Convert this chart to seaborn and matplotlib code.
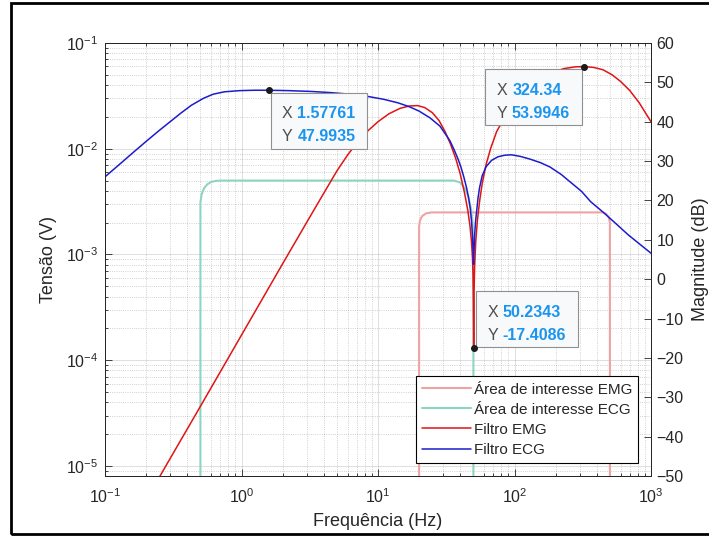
import matplotlib
matplotlib.use('Agg')
import matplotlib.pyplot as plt
import seaborn as sns
from matplotlib.patches import Rectangle
from matplotlib.offsetbox import TextArea, HPacker, VPacker, AnnotationBbox, DrawingArea

# Área de interesse EMG (20 a 500 Hz, 2.5 mV) - eixo da esquerda
freq_area_emg = [20, 20, 20.3, 21, 22.5, 24.8, 445, 470, 490, 500, 500]
tensao_area_emg = [1e-6, 1.84e-3, 2.1e-3, 2.3e-3, 2.45e-3, 2.5e-3, 2.5e-3, 2.42e-3, 2.25e-3, 2.0e-3, 1e-6]

# Área de interesse ECG (0.5 a 50 Hz, 5 mV)
freq_area_ecg = [0.5, 0.5, 0.51, 0.53, 0.56, 0.6, 0.65, 0.7, 36, 40, 43.4, 46, 48.3, 49.5, 50, 50]
tensao_area_ecg = [1e-6, 3.1e-3, 3.7e-3, 4.2e-3, 4.6e-3, 4.85e-3, 4.97e-3, 5e-3, 5e-3, 4.8e-3, 4.2e-3, 3.5e-3, 2.6e-3, 1.8e-3, 1.2e-3, 1e-6]

# Filtro EMG (dB) - eixo da direita
freq_emg = [0.2, 0.5, 1, 2, 3, 4, 5, 6, 7, 8.5, 10, 12, 14.5, 17, 19.5, 22, 25, 28, 31, 34, 37, 40, 43,
            45.5, 47.2, 48.4, 49.2, 49.7, 50.0, 50.2343, 50.5, 51, 52, 53.5, 55.5, 58, 62, 67, 74, 82, 92,
            105, 125, 150, 185, 230, 280, 324.34, 380, 445, 520, 600, 700, 820, 1000]
db_emg = [-56.1, -32.3, -14.2, 3.9, 14.4, 21.8, 27.5, 31.6, 34.6, 37.8, 40.0, 42.0, 43.4, 44.0, 44.1, 43.6,
          42.3, 40.3, 37.5, 34.3, 30.8, 26.8, 22.0, 17.5, 13.5, 9.5, 5.5, 1.0, -6.0, -17.4086, -4.0, 3.0,
          9.5, 15.0, 19.8, 24.3, 29.2, 33.3, 37.5, 40.3, 43.2, 45.9, 48.6, 50.7, 52.4, 53.5, 53.95, 53.9946,
          53.8, 53.2, 51.9, 50.2, 47.9, 44.8, 40.0]

# Filtro ECG (dB)
freq_ecg = [0.1, 0.13, 0.161, 0.2, 0.25, 0.3, 0.36, 0.43, 0.53, 0.621, 0.75, 0.97, 1.25, 1.57761, 2.2,
            3.2, 4.5, 6.2, 8.5, 11, 14, 17, 20, 24, 28.4, 31, 33.6, 36, 38.5, 40.5, 42.5, 44.5, 46, 47.4,
            48.5, 49.3, 49.8, 50.1, 50.4, 51, 51.8, 52.7, 54, 55.5, 58, 62, 68, 75.8, 85, 95, 110, 130,
            155, 182, 220, 260, 310, 361, 450, 562, 679, 820, 1000]
db_ecg = [26.0, 29.4, 32.2, 35.0, 37.8, 40.0, 42.2, 44.2, 46.0, 47.0, 47.6, 47.9, 48.0, 47.9935, 47.9,
          47.7, 47.4, 47.0, 46.4, 45.7, 44.8, 43.8, 42.7, 41.0, 38.9, 37.0, 35.2, 33.0, 30.6, 28.5, 26.0,
          23.3, 20.8, 18.0, 14.5, 10.5, 6.5, 3.8, 6.5, 11.0, 14.5, 17.0, 20.5, 23.3, 26.3, 28.6, 30.2,
          31.1, 31.5, 31.6, 31.2, 30.5, 29.6, 28.5, 26.6, 24.5, 22.3, 19.7, 16.9, 13.9, 11.3, 9.0, 6.6]

# datatips (x, y, texto)
tip_x = [1.57761, 324.34, 50.2343]
tip_y = [47.9935, 53.9946, -17.4086]
tip_txt_x = ['1.57761', '324.34', '50.2343']
tip_txt_y = ['47.9935', '53.9946', '-17.4086']

sns.set_theme(style='white')
plt.rcParams['font.family'] = ['Liberation Sans', 'DejaVu Sans']
plt.rcParams['mathtext.default'] = 'regular'
cinza = '#262626'

fig = plt.figure(figsize=(7.09, 5.36), dpi=100)
ax = fig.add_axes([105 / 709, 60 / 536, 546 / 709, 433 / 536])
ax.set_xscale('log')
ax.set_yscale('log')
ax2 = ax.twinx()

sns.lineplot(x=freq_area_emg, y=tensao_area_emg, ax=ax, sort=False, estimator=None,
             color='#F0A3A3', lw=1.5, label='Área de interesse EMG', legend=False)
sns.lineplot(x=freq_area_ecg, y=tensao_area_ecg, ax=ax, sort=False, estimator=None,
             color='#8ED4C2', lw=1.5, label='Área de interesse ECG', legend=False)
sns.lineplot(x=freq_emg, y=db_emg, ax=ax2, sort=False, estimator=None,
             color='#E01414', lw=1.1, label='Filtro EMG', legend=False)
sns.lineplot(x=freq_ecg, y=db_ecg, ax=ax2, sort=False, estimator=None,
             color='#1C1CCC', lw=1.1, label='Filtro ECG', legend=False)

handles = ax.get_lines() + ax2.get_lines()
labels = ['Área de interesse EMG', 'Área de interesse ECG', 'Filtro EMG', 'Filtro ECG']

ax.set_xlim(0.1, 1000)
ax.set_ylim(8.04e-6, 0.1)
ax2.set_ylim(-50, 60)
ax2.set_yticks(range(-50, 61, 10))
ax.set_xticks([0.1, 1, 10, 100, 1000])
ax.set_yticks([1e-5, 1e-4, 1e-3, 1e-2, 1e-1])

ax.grid(True, which='major', color=cinza, alpha=0.15, lw=0.7)
ax.grid(True, which='minor', color=cinza, alpha=0.28, lw=0.6, ls=':')
ax2.grid(False)

ax.tick_params(which='both', direction='in', top=True, bottom=True, left=True, right=False,
               colors=cinza, labelsize=11.5, width=0.6)
ax.tick_params(which='major', length=5)
ax.tick_params(which='minor', length=2.5)
ax.tick_params(axis='x', pad=8)
ax.tick_params(axis='y', pad=5)
ax2.tick_params(axis='y', which='both', direction='in', length=5, width=0.6, colors=cinza,
                labelsize=11.5, pad=4)
for a in (ax, ax2):
    for s in a.spines.values():
        s.set_color(cinza)
        s.set_linewidth(0.7)

ax.set_xlabel('Frequência (Hz)', fontsize=13, color=cinza)
ax.set_ylabel('Tensão (V)', fontsize=13, color=cinza)
ax2.set_ylabel('Magnitude (dB)', fontsize=13, color=cinza)
ax.xaxis.set_label_coords(0.5, -0.085)
ax.yaxis.set_label_coords(-0.088, 0.5)
ax2.yaxis.set_label_coords(1.075, 0.5)

leg = ax2.legend(handles, labels, loc='lower right', frameon=True, fancybox=False, edgecolor='black',
                 framealpha=1, fontsize=11, handlelength=3.2, handletextpad=0.15, labelspacing=0.4,
                 borderaxespad=0.85, borderpad=0.4)
leg.get_frame().set_linewidth(0.8)
leg.set_zorder(10)

# datatips estilo MATLAB
alinhamentos = [(0, 1), (1, 1), (0, 0)]
deslocamentos = [(4.9, -5.1), (-5.1, -5.3), (5.1, 3.6)]
for x, y, tx, ty, al, off in zip(tip_x, tip_y, tip_txt_x, tip_txt_y, alinhamentos, deslocamentos):
    props_lbl = dict(color='#4D4D4D', fontsize=11.5)
    props_val = dict(color='#1C95EE', fontsize=11.5, fontweight='bold')
    l1 = HPacker(children=[TextArea('X ', textprops=props_lbl), TextArea(tx, textprops=props_val)], pad=0, sep=0)
    l2 = HPacker(children=[TextArea('Y ', textprops=props_lbl), TextArea(ty, textprops=props_val)], pad=0, sep=0)
    linhas = VPacker(children=[DrawingArea(1, 1), l1, l2], pad=0, sep=5.5, align='left')
    caixa = HPacker(children=[DrawingArea(5, 1), linhas, DrawingArea(5, 1)], pad=0, sep=0, align='center')
    ab = AnnotationBbox(caixa, (x, y), xybox=off, xycoords='data', boxcoords='offset points',
                        box_alignment=al, frameon=True, pad=0.6,
                        bboxprops=dict(boxstyle='square', fc='#F8F9FB', ec='#909090', lw=0.8))
    ab.set_zorder(8)
    ax2.add_artist(ab)
ax2.scatter(tip_x, tip_y, s=16, color='#1A1A1A', zorder=9)

# moldura preta em volta da figura
fig.patches.append(Rectangle((11 / 709, 2 / 536), 1.0, 531 / 536, transform=fig.transFigure,
                             fill=False, ec='black', lw=2))

fig.savefig('out.png', dpi=100)
